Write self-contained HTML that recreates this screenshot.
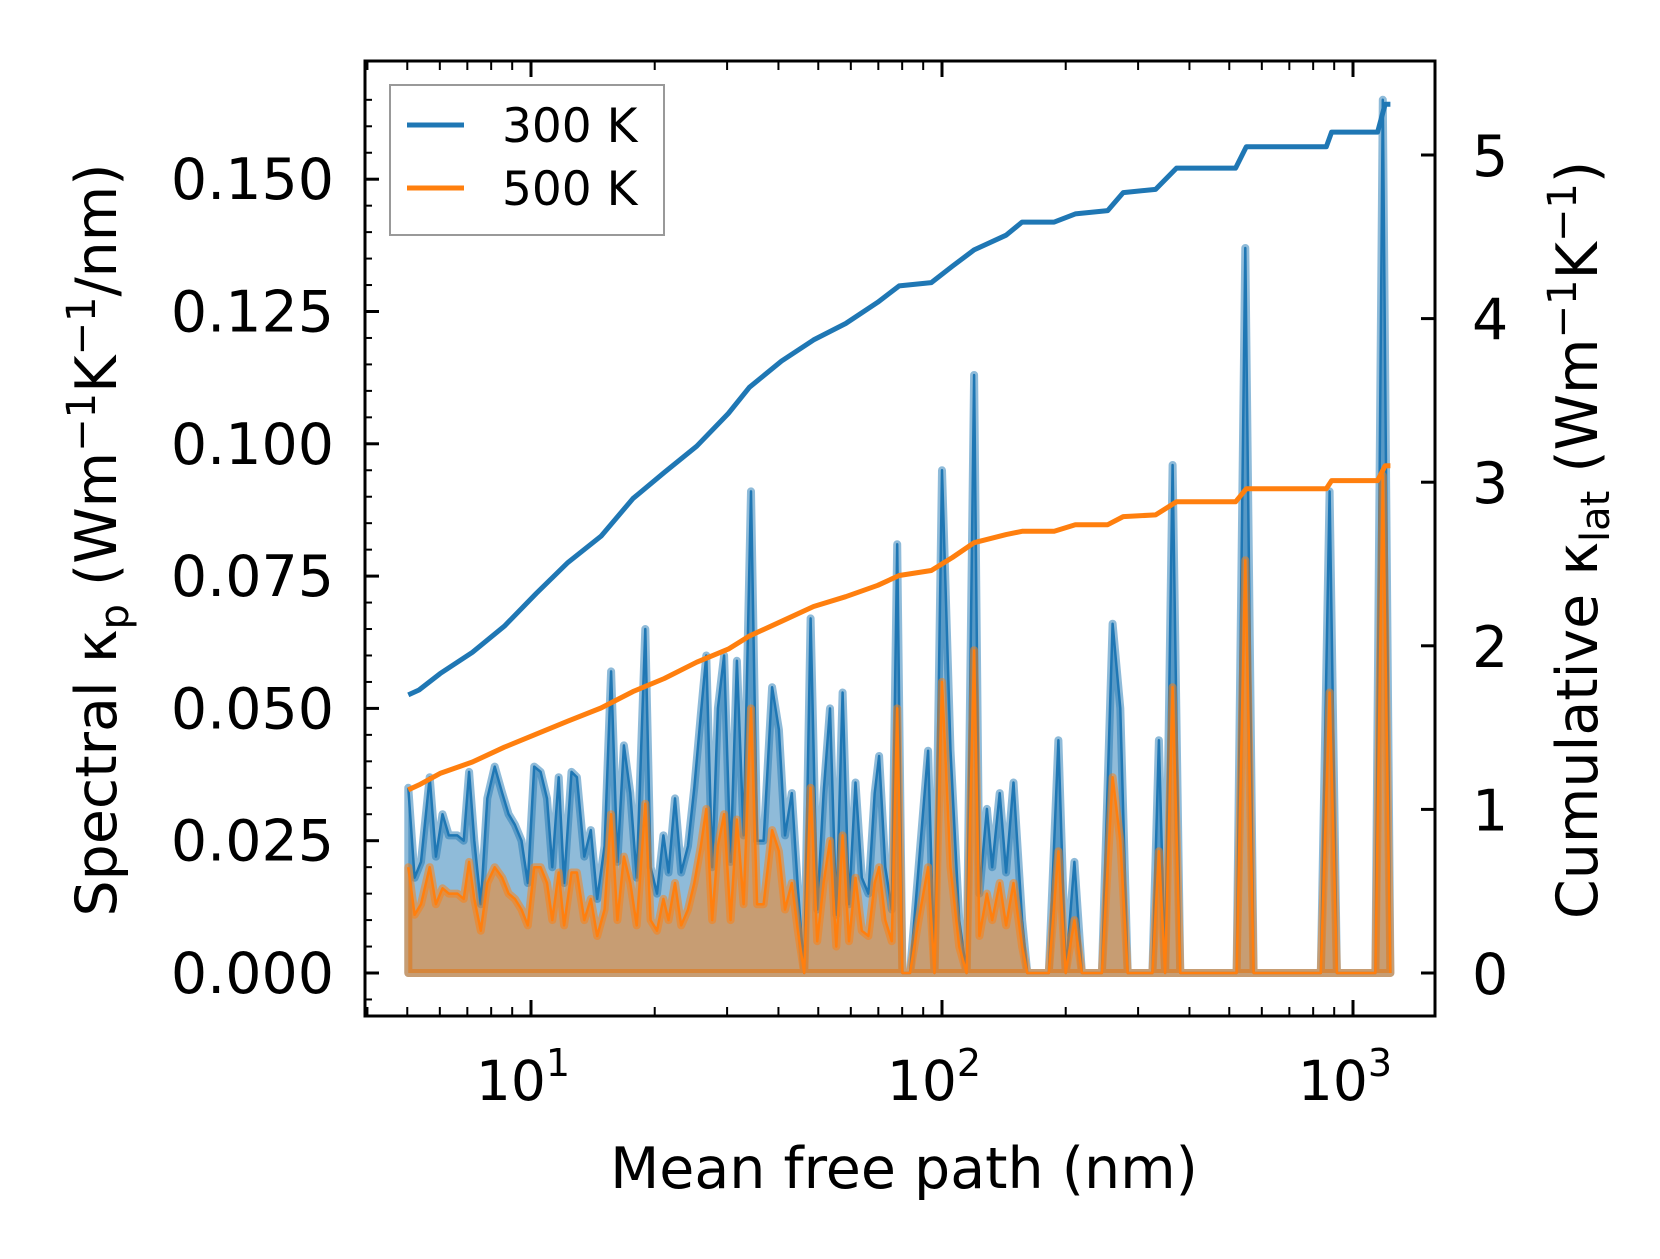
<!DOCTYPE html>
<html><head><meta charset="utf-8"><style>
html,body{margin:0;padding:0;background:#fff;}
svg text{font-family:"DejaVu Sans","Liberation Sans",sans-serif;fill:#000;}
</style></head><body>
<svg id="chart" width="1660" height="1254" viewBox="0 0 1660 1254" xmlns="http://www.w3.org/2000/svg">
<rect width="1660" height="1254" fill="#fff"/>
<g id="plot"></g>
<g id="axes"></g>
<g>
<rect x="390" y="85" width="274" height="150" fill="#fff" stroke="#999" stroke-width="2"/>
<line x1="407" y1="125" x2="464" y2="125" stroke="#1f77b4" stroke-width="5"/>
<text x="502" y="142" font-size="47">300 K</text>
<line x1="407" y1="188" x2="464" y2="188" stroke="#ff7f0e" stroke-width="5"/>
<text x="502" y="205" font-size="47">500 K</text>
</g>
<text x="904" y="1188" font-size="57" text-anchor="middle">Mean free path (nm)</text>
<text transform="translate(116,540) rotate(-90)" font-size="57" text-anchor="middle">Spectral κ<tspan font-size="40" dy="12">p</tspan><tspan dy="-12"> (Wm</tspan><tspan font-size="40" dy="-21">−1</tspan><tspan dy="21">K</tspan><tspan font-size="40" dy="-21">−1</tspan><tspan dy="21">/nm)</tspan></text>
<text transform="translate(1597,540) rotate(-90)" font-size="57" text-anchor="middle">Cumulative κ<tspan font-size="40" dy="12">lat</tspan><tspan dy="-12"> (Wm</tspan><tspan font-size="40" dy="-21">−1</tspan><tspan dy="21">K</tspan><tspan font-size="40" dy="-21">−1</tspan><tspan dy="21">)</tspan></text>
</svg>
<script>
const mfp = [5.03,5.21,5.40,5.67,5.87,6.09,6.31,6.62,6.86,7.07,7.28,7.55,7.83,8.16,8.51,8.82,9.14,9.48,9.82,10.18,10.55,10.94,11.27,11.68,12.04,12.55,12.93,13.48,13.98,14.49,15.10,15.66,16.23,16.83,17.44,18.08,18.97,19.54,20.26,21.0,21.6,22.4,23.2,24.1,24.96,25.9,26.7,27.6,28.5,29.5,30.6,31.7,32.9,34.3,35.5,36.8,38.6,40.1,41.5,43.1,44.6,46.2,47.9,49.7,51.5,53.4,55.3,57.3,59.4,61.6,63.8,66.2,68.6,70.3,72.8,75.5,77.8,80.1,83.6,87.7,92.5,95.9,100,104.9,110.1,114.8,119.7,123.3,128.6,132.5,138.2,143.2,149.3,156.6,161.3,181.9,192,200,210,219,245,260,271.5,283,325,337,349,364,380,521,547,573,835,877,914,1134,1182,1233];
const spec300 = [0.035,0.018,0.021,0.037,0.022,0.030,0.026,0.026,0.025,0.038,0.025,0.013,0.033,0.039,0.034,0.030,0.028,0.025,0.017,0.039,0.038,0.033,0.020,0.037,0.017,0.038,0.037,0.022,0.027,0.014,0.024,0.057,0.021,0.043,0.034,0.018,0.065,0.020,0.015,0.026,0.019,0.033,0.019,0.024,0.035,0.049,0.060,0.020,0.050,0.060,0.021,0.059,0.026,0.091,0.025,0.025,0.054,0.046,0.026,0.034,0.016,0.000,0.067,0.012,0.034,0.050,0.011,0.053,0.013,0.036,0.018,0.015,0.034,0.041,0.020,0.012,0.081,0.000,0.000,0.020,0.042,0.000,0.095,0.042,0.010,0.000,0.113,0.015,0.031,0.020,0.034,0.019,0.036,0.010,0.000,0.000,0.044,0.000,0.021,0.000,0.000,0.066,0.050,0.000,0.000,0.044,0.000,0.096,0.000,0.000,0.137,0.000,0.000,0.091,0.000,0.000,0.165,0.000];
const spec500 = [0.020,0.011,0.013,0.020,0.013,0.016,0.015,0.015,0.014,0.021,0.014,0.008,0.017,0.020,0.018,0.015,0.014,0.012,0.009,0.020,0.020,0.017,0.010,0.019,0.009,0.019,0.019,0.010,0.014,0.007,0.012,0.030,0.010,0.022,0.017,0.009,0.032,0.010,0.008,0.014,0.010,0.017,0.009,0.012,0.017,0.024,0.031,0.010,0.024,0.030,0.010,0.029,0.013,0.050,0.013,0.013,0.027,0.023,0.012,0.017,0.008,0.000,0.035,0.006,0.017,0.025,0.005,0.026,0.006,0.018,0.008,0.007,0.017,0.020,0.010,0.006,0.050,0.000,0.000,0.010,0.020,0.000,0.055,0.020,0.005,0.000,0.061,0.007,0.015,0.010,0.017,0.009,0.017,0.005,0.000,0.000,0.023,0.000,0.010,0.000,0.000,0.037,0.025,0.000,0.000,0.023,0.000,0.054,0.000,0.000,0.078,0.000,0.000,0.053,0.000,0.000,0.094,0.000];
const cumMfp = [5.03,5.34,6.01,7.2,8.61,10.3,12.3,14.8,17.7,21.1,25.3,30.2,34.0,40.7,48.7,58.3,69.8,78.7,94.2,106,119.7,143.2,156.6,187.5,211,253,276,331,372,518,550,861,887,1148,1197,1233];
const cum300 = [1.70,1.73,1.83,1.96,2.12,2.32,2.51,2.67,2.90,3.06,3.22,3.42,3.58,3.74,3.87,3.97,4.10,4.20,4.22,4.32,4.42,4.51,4.59,4.59,4.64,4.66,4.77,4.79,4.92,4.92,5.05,5.05,5.14,5.14,5.31,5.31];
const cum500 = [1.12,1.15,1.22,1.29,1.38,1.46,1.54,1.62,1.72,1.80,1.90,1.98,2.06,2.15,2.24,2.30,2.37,2.43,2.46,2.54,2.63,2.68,2.70,2.70,2.74,2.74,2.79,2.80,2.88,2.88,2.96,2.96,3.01,3.01,3.10,3.10];
const leftTicks = ["0.000","0.025","0.050","0.075","0.100","0.125","0.150"];
const rightTicks = ["0","1","2","3","4","5"];
const xDecades = [1,2,3];

const NS="http://www.w3.org/2000/svg";
const L=365,R=1435,T=61,B=1016;
function sx(v){return 531+(Math.log10(v)-1)*411;}
function syL(v){return 973-v/0.025*132.3;}
function syR(v){return 973-v*163.6;}
function mk(tag,attrs,parent){const e=document.createElementNS(NS,tag);for(const k in attrs)e.setAttribute(k,attrs[k]);parent.appendChild(e);return e;}
const plot=document.getElementById('plot');
const axes=document.getElementById('axes');

function drawSpec(vals,color,name){
  let line=mfp.map((m,i)=>(i?'L':'M')+sx(m).toFixed(1)+','+syL(vals[i]).toFixed(1)).join(' ');
  let area=line+' L'+sx(mfp[mfp.length-1]).toFixed(1)+','+syL(0)+' L'+sx(mfp[0]).toFixed(1)+','+syL(0)+' Z';
  const a=mk('path',{d:area,fill:color,'fill-opacity':0.5,stroke:color,'stroke-opacity':0.5,'stroke-width':8,'stroke-linejoin':'round'},plot);
  
  
  const l=mk('path',{d:line,fill:'none',stroke:color,'stroke-width':2.5,'stroke-linejoin':'round'},plot);
  
  
}
drawSpec(spec300,'#1f77b4','spectral-300k');
drawSpec(spec500,'#ff7f0e','spectral-500k');
function drawCum(vals,color,name){
  const d=cumMfp.map((m,i)=>(i?'L':'M')+sx(m).toFixed(1)+','+syR(vals[i]).toFixed(1)).join(' ');
  const p=mk('path',{d:d,fill:'none',stroke:color,'stroke-width':5,'stroke-linejoin':'round'},plot);
  
  
}
drawCum(cum300,'#1f77b4','cumulative-300k');
drawCum(cum500,'#ff7f0e','cumulative-500k');

const frame=mk('rect',{x:L,y:T,width:R-L,height:B-T,fill:'none',stroke:'#000','stroke-width':3},axes);


leftTicks.forEach(t=>{const y=syL(parseFloat(t));
  mk('line',{x1:L,x2:L+14,y1:y,y2:y,stroke:'#000','stroke-width':3},axes);
  const tx=mk('text',{x:334,y:y+20,'font-size':57,'text-anchor':'end'},axes);tx.textContent=t;
  
  
});
for(let v=-0.005;v<=0.17;v+=0.005){const y=syL(v);if(y<T||y>B)continue;mk('line',{x1:L,x2:L+7,y1:y,y2:y,stroke:'#000','stroke-width':2},axes);}
rightTicks.forEach(t=>{const y=syR(parseFloat(t));
  mk('line',{x1:R-14,x2:R,y1:y,y2:y,stroke:'#000','stroke-width':3},axes);
  const tx=mk('text',{x:1472,y:y+21,'font-size':57},axes);tx.textContent=t;
  
  
});
for(let e=0;e<=3;e++){for(let k=1;k<10;k++){const v=k*Math.pow(10,e);const x=sx(v);if(x<L||x>R)continue;
  const len=k===1?16:9;
  mk('line',{x1:x,x2:x,y1:B,y2:B-len,stroke:'#000','stroke-width':k===1?3:2},axes);
  mk('line',{x1:x,x2:x,y1:T,y2:T+len,stroke:'#000','stroke-width':k===1?3:2},axes);}}
xDecades.forEach(d=>{const x=sx(Math.pow(10,d));
  const tx=mk('text',{x:x-8,y:1100,'font-size':55,'text-anchor':'middle'},axes);
  
  
  tx.textContent='10';
  const s=mk('tspan',{'font-size':38,dy:-24},tx);s.textContent=String(d);
});
</script>
</body></html>
